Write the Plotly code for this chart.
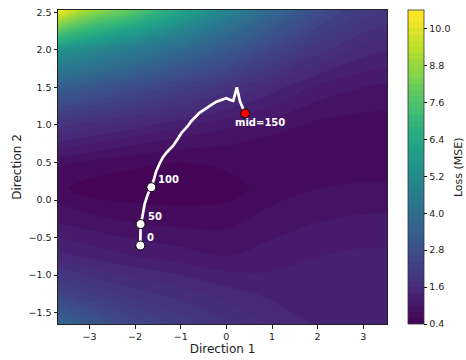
import plotly.graph_objects as go

# ---- loss surface (values on a coarse grid) ----
grid_x = [-3.7, -3.0, -2.0, -1.0, 0.0, 1.0, 2.0, 3.0, 3.6]
grid_y = [-1.7, -1.25, -0.75, -0.3, 0.15, 0.5, 0.8, 1.0, 1.5, 2.0, 2.3, 2.6]
loss_grid = [
    [3.9, 3.2, 2.6, 2.2, 1.9, 1.6, 1.4, 1.35, 1.35],
    [2.5, 2.2, 1.9, 1.7, 1.5, 1.35, 1.3, 1.3, 1.3],
    [1.5, 1.35, 1.2, 1.1, 1.0, 1.1, 1.2, 1.25, 1.25],
    [1.0, 0.9, 0.8, 0.75, 0.75, 0.9, 1.0, 1.05, 1.05],
    [0.65, 0.5, 0.45, 0.45, 0.5, 0.7, 0.8, 0.85, 0.85],
    [0.85, 0.75, 0.65, 0.6, 0.65, 0.65, 0.65, 0.65, 0.65],
    [1.45, 1.3, 1.1, 0.95, 0.85, 0.75, 0.65, 0.6, 0.6],
    [1.9, 1.7, 1.5, 1.25, 1.05, 0.9, 0.75, 0.7, 0.7],
    [3.4, 3.1, 2.7, 2.3, 1.9, 1.5, 1.15, 1.0, 0.95],
    [5.6, 5.1, 4.5, 3.8, 3.2, 2.5, 1.9, 1.5, 1.4],
    [8.2, 7.2, 6.2, 5.2, 4.1, 3.2, 2.4, 1.9, 1.75],
    [11.0, 9.5, 8.3, 6.6, 5.3, 4.0, 2.9, 2.2, 2.0],
]

# ---- optimisation trajectory ----
traj_x = [-1.886, -1.885, -1.88, -1.84, -1.79, -1.72, -1.645, -1.59, -1.54, -1.46,
          -1.39, -1.30, -1.17, -1.05, -0.99, -0.84, -0.77, -0.59, -0.50, -0.37,
          -0.22, -0.10, 0.0, 0.10, 0.15, 0.23, 0.30, 0.41]
traj_y = [-0.605, -0.45, -0.32, -0.22, -0.05, 0.08, 0.171, 0.27, 0.38, 0.49,
          0.57, 0.64, 0.72, 0.83, 0.89, 0.99, 1.05, 1.16, 1.20, 1.25,
          1.31, 1.34, 1.355, 1.33, 1.32, 1.50, 1.31, 1.154]

ckpt_x = [-1.886, -1.88, -1.645]
ckpt_y = [-0.605, -0.32, 0.171]
ckpt_labels = ["0", "50", "100"]

mid_x = [0.41]
mid_y = [1.154]
mid_label = "mid=150"

cbar_ticks = [0.4, 1.6, 2.8, 4.0, 5.2, 6.4, 7.6, 8.8, 10.0]
cbar_text = ["0.4", "1.6", "2.8", "4.0", "5.2", "6.4", "7.6", "8.8", "10.0"]

FONT = "DejaVu Sans"

fig = go.Figure()
fig.add_trace(go.Contour(
    x=grid_x, y=grid_y, z=loss_grid,
    colorscale="Viridis",
    zmin=0.4, zmax=10.6,
    autocontour=False,
    contours=dict(start=0.4, end=10.6, size=0.2, coloring="fill", showlines=False),
    line=dict(width=0),
    colorbar=dict(
        x=1.065, xanchor="left", xpad=0,
        y=0.5, yanchor="middle", len=1.0, ypad=0,
        thickness=16,
        outlinewidth=0.8, outlinecolor="#333",
        tickvals=cbar_ticks, ticktext=cbar_text,
        ticks="outside", ticklen=3.5, tickwidth=0.8, tickcolor="black",
        tickfont=dict(family=FONT, size=9.5, color="#222"),
    ),
    showscale=True,
    hoverinfo="skip",
))

fig.add_trace(go.Scatter(
    x=traj_x, y=traj_y, mode="lines",
    line=dict(color="white", width=2.7),
    showlegend=False, hoverinfo="skip",
))
fig.add_trace(go.Scatter(
    x=ckpt_x, y=ckpt_y, mode="markers",
    marker=dict(color="white", size=9, line=dict(color="black", width=1)),
    showlegend=False,
))
fig.add_trace(go.Scatter(
    x=mid_x, y=mid_y, mode="markers",
    marker=dict(color="red", size=9, line=dict(color="black", width=1)),
    showlegend=False,
))

for lx, ly, lt in zip(ckpt_x, ckpt_y, ckpt_labels):
    fig.add_annotation(x=lx, y=ly, text=lt, showarrow=False,
                       xanchor="left", yanchor="middle", xshift=5, yshift=8,
                       font=dict(family=FONT, size=10, color="white", weight="bold"))
fig.add_annotation(x=mid_x[0], y=mid_y[0], text=mid_label, showarrow=False,
                   xanchor="left", yanchor="middle", xshift=-12, yshift=-9,
                   font=dict(family=FONT, size=10, color="white", weight="bold"))

# colour bar title
fig.add_annotation(xref="paper", yref="paper", x=1.216, y=0.5, text="Loss (MSE)",
                   textangle=-90, showarrow=False, xanchor="center", yanchor="middle",
                   font=dict(family=FONT, size=11, color="#222"))

axis_common = dict(
    showline=True, mirror=True, linecolor="#222", linewidth=1,
    ticks="outside", ticklen=3.5, tickwidth=0.8, tickcolor="#222",
    showgrid=False, zeroline=False,
    tickfont=dict(family=FONT, size=9.5, color="#222"),
)
fig.update_xaxes(range=[-3.69, 3.52], tickvals=[-3, -2, -1, 0, 1, 2, 3],
                 title=dict(text="Direction 1", standoff=3,
                            font=dict(family=FONT, size=12, color="#222")),
                 **axis_common)
fig.update_yaxes(range=[-1.65, 2.53], tickvals=[-1.5, -1.0, -0.5, 0.0, 0.5, 1.0, 1.5, 2.0, 2.5],
                 tickformat=".1f",
                 title=dict(text="Direction 2", standoff=4,
                            font=dict(family=FONT, size=12, color="#222")),
                 **axis_common)

fig.update_layout(
    width=466, height=360,
    margin=dict(l=58, r=79, t=7, b=35),
    paper_bgcolor="white", plot_bgcolor="white",
    showlegend=False,
)

fig.write_html("out.html")
